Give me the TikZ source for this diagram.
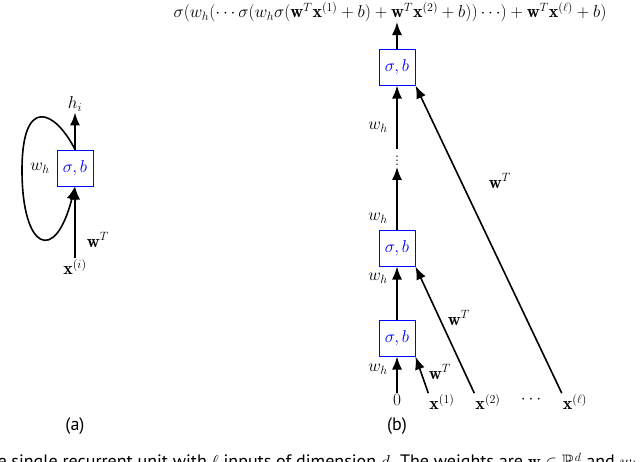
\documentclass[tikz,border=0pt]{standalone}
\usepackage{amssymb}
\usepackage{fontspec}
\setsansfont{PT Sans}
\usetikzlibrary{arrows.meta}
\newcommand{\bigfnt}{\fontsize{18}{20}\selectfont}
\begin{document}
\begin{tikzpicture}[x=1pt,y=-1pt,
  unit/.style={draw=blue,line width=1pt,text=blue,minimum size=36pt,inner sep=0pt,fill=white,font=\bigfnt},
  arr/.style={line width=1.6pt,-{Latex[length=13pt,width=10pt]}},
  lbl/.style={inner sep=1pt,font=\bigfnt}]
\useasboundingbox (0,0) rectangle (640,461);
\clip (0,0) rectangle (640,461);
% (a)
\node[unit] (ua) at (75,168) {$\sigma,b$};
\node[lbl] (hi) at (75,104) {$h_i$};
\node[lbl] (xi) at (75,267) {$\mathbf{x}^{(i)}$};
\draw[arr] (ua.north) -- (hi.south);
\draw[arr] (xi.north) -- (ua.south);
\draw[arr] (ua.north) .. controls (55,110) and (22,95) .. (22,170) .. controls (22,250) and (55,265) .. (ua.south);
\node[lbl] at (40,168) {$w_h$};
\node[lbl] at (98,240) {$\mathbf{w}^T$};
\node[font=\sffamily\bigfnt] at (75,426) {(a)};
% (b)
\node[unit] (b1) at (397,338) {$\sigma,b$};
\node[unit] (b2) at (397,248) {$\sigma,b$};
\node[unit] (b3) at (397,67) {$\sigma,b$};
\node[lbl] (dots) at (397,158) {$\vdots$};
\node[lbl] (top) at (390,12) {$\sigma(w_h(\cdots\sigma(w_h\sigma(\mathbf{w}^T\mathbf{x}^{(1)}+b)+\mathbf{w}^T\mathbf{x}^{(2)}+b))\cdots)+\mathbf{w}^T\mathbf{x}^{(\ell)}+b)$};
\coordinate (topin) at (397,22);
\node[lbl] (z) at (397,400) {$0$};
\node[lbl] (x1) at (442,402) {$\mathbf{x}^{(1)}$};
\node[lbl] (x2) at (488,402) {$\mathbf{x}^{(2)}$};
\node[lbl] (xd) at (531,400) {$\cdots$};
\node[lbl] (xl) at (575,402) {$\mathbf{x}^{(\ell)}$};
\draw[arr] (z.north) -- (b1.south);
\draw[arr] (b1.north) -- (b2.south);
\draw[arr] (b2.north) -- (dots.south);
\draw[arr] (dots.north) -- (b3.south);
\draw[arr] (b3.north) -- (topin);
\draw[arr] (x1.north west) -- (b1.south east);
\draw[arr] (x2.north west) -- (b2.south east);
\draw[arr] (xl.north west) -- (b3.south east);
\node[lbl] at (378,369) {$w_h$};
\node[lbl] at (378,278) {$w_h$};
\node[lbl] at (378,218) {$w_h$};
\node[lbl] at (378,127) {$w_h$};
\node[lbl] at (440,372) {$\mathbf{w}^T$};
\node[lbl] at (459,318) {$\mathbf{w}^T$};
\node[lbl] at (500,181) {$\mathbf{w}^T$};
\node[font=\sffamily\bigfnt] at (397,426) {(b)};
\node[font=\sffamily\bigfnt,anchor=west] at (-6,462) {e single recurrent unit with $\ell$ inputs of dimension $d$. The weights are $\mathbf{w}\in\mathbb{R}^d$ and $w_h\in\mathbb{R}$};
\end{tikzpicture}
\end{document}
